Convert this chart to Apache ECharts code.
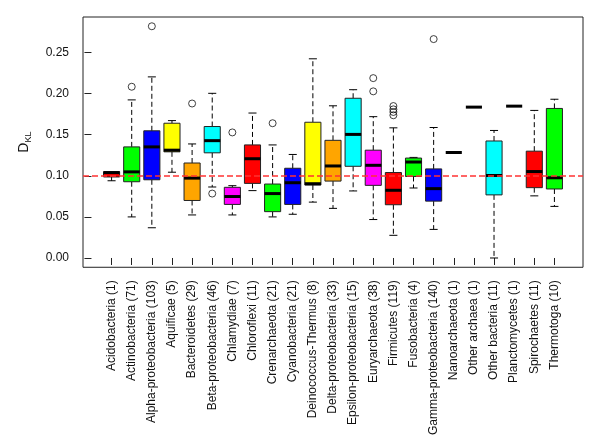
<!DOCTYPE html>
<html>
<head>
<meta charset="utf-8">
<script src="https://cdn.jsdelivr.net/npm/echarts@6/dist/echarts.min.js"></script>
<style>
html,body{margin:0;padding:0;background:#fff;}
#chart{width:600px;height:438px;}
</style>
</head>
<body>
<div id="chart"></div>
<script>
// ---- data ----
const categories = ["Acidobacteria (1)","Actinobacteria (71)","Alpha-proteobacteria (103)","Aquificae (5)","Bacteroidetes (29)","Beta-proteobacteria (46)","Chlamydiae (7)","Chloroflexi (11)","Crenarchaeota (21)","Cyanobacteria (21)","Deinococcus-Thermus (8)","Delta-proteobacteria (33)","Epsilon-proteobacteria (15)","Euryarchaeota (38)","Firmicutes (119)","Fusobacteria (4)","Gamma-proteobacteria (140)","Nanoarchaeota (1)","Other archaea (1)","Other bacteria (11)","Planctomycetes (1)","Spirochaetes (11)","Thermotoga (10)"];
const lowerWhisker = [0.094,0.050,0.0368,0.1044,0.0524,0.0864,0.0524,0.082,0.050,0.0532,0.068,0.0604,0.0816,0.0468,0.0276,0.0852,0.0348,0.1284,0.1836,0.000,0.1848,0.0756,0.0628];
const q1 =           [0.0986,0.0928,0.0952,0.1292,0.070,0.128,0.0652,0.0908,0.0564,0.0652,0.0888,0.0936,0.1116,0.0884,0.0648,0.0992,0.0692,0.1284,0.1836,0.0768,0.1848,0.0856,0.084];
const medians =      [0.1039,0.1048,0.1352,0.1312,0.0972,0.1428,0.0748,0.1208,0.0784,0.0916,0.0904,0.112,0.1504,0.1128,0.0824,0.1168,0.0844,0.1284,0.1836,0.1004,0.1848,0.1052,0.0976];
const q3 =           [0.105,0.1352,0.1548,0.164,0.1156,0.160,0.086,0.1376,0.090,0.1092,0.1652,0.1432,0.1944,0.1312,0.104,0.1216,0.1084,0.1284,0.1836,0.1424,0.1848,0.130,0.182];
const upperWhisker = [0.105,0.1924,0.2204,0.1672,0.1388,0.2004,0.088,0.1764,0.1376,0.126,0.2424,0.1852,0.2048,0.172,0.1584,0.1224,0.1588,0.1284,0.1836,0.1552,0.1848,0.1796,0.1932];
// outliers: [category number (1-based), value]
const outliers = [[2,0.2084],[3,0.282],[5,0.188],[6,0.0784],[7,0.1528],[9,0.164],[14,0.2189],[14,0.2028],[15,0.1849],[15,0.1809],[15,0.1777],[15,0.1737],[17,0.2664]];
const referenceValue = 0.1018;
const yTicks = [0.00,0.05,0.10,0.15,0.20,0.25];
const boxColors = ['#ff0000','#00ff00','#0000ff','#ffff00','#ffa500','#00ffff','#ff00ff'];

// ---- build ----
const n = categories.length;
const xMin = 0.5 - 0.04 * n, xMax = n + 0.5 + 0.04 * n;
const allVals = lowerWhisker.concat(upperWhisker, outliers.map(o => o[1]));
const dMin = Math.min.apply(null, allVals), dMax = Math.max.apply(null, allVals);
const yMin = dMin - 0.04 * (dMax - dMin), yMax = dMax + 0.04 * (dMax - dMin);
const xPositions = categories.map((c, i) => i + 1);

const boxData = categories.map((c, i) => [i + 1, lowerWhisker[i], q1[i], medians[i], q3[i], upperWhisker[i], i]);
const BOXWEX = 0.8;
const FONT = "'Liberation Sans', Arial, Helvetica, sans-serif";

function renderBox(params, api) {
  const x = api.value(0);
  const lo = api.value(1), a = api.value(2), m = api.value(3), b = api.value(4), hi = api.value(5);
  const idx = api.value(6);
  const halfW = api.size([BOXWEX, 0])[0] / 2;
  const capW = halfW / 2;
  const pLo = api.coord([x, lo]), pA = api.coord([x, a]), pM = api.coord([x, m]), pB = api.coord([x, b]), pHi = api.coord([x, hi]);
  const cx = pM[0];
  const children = [];
  const single = (lo === hi);
  if (!single) {
    const dash = { stroke: '#000', lineWidth: 1, lineDash: [5, 3] };
    if (hi > b) {
      children.push({ type: 'line', shape: { x1: cx, y1: pB[1], x2: cx, y2: pHi[1] }, style: dash });
      children.push({ type: 'line', shape: { x1: cx - capW, y1: pHi[1], x2: cx + capW, y2: pHi[1] }, style: { stroke: '#000', lineWidth: 1 } });
    }
    if (lo < a) {
      children.push({ type: 'line', shape: { x1: cx, y1: pA[1], x2: cx, y2: pLo[1] }, style: dash });
      children.push({ type: 'line', shape: { x1: cx - capW, y1: pLo[1], x2: cx + capW, y2: pLo[1] }, style: { stroke: '#000', lineWidth: 1 } });
    }
    children.push({ type: 'rect', shape: { x: cx - halfW, y: pB[1], width: 2 * halfW, height: pA[1] - pB[1] },
      style: { fill: boxColors[idx % boxColors.length], stroke: '#222', lineWidth: 1 } });
  }
  children.push({ type: 'line', shape: { x1: cx - halfW, y1: pM[1], x2: cx + halfW, y2: pM[1] }, style: { stroke: '#000', lineWidth: 3 } });
  return { type: 'group', children: children };
}

const chart = echarts.init(document.getElementById('chart'), null, { renderer: 'canvas' });
chart.setOption({
  animation: false,
  backgroundColor: '#fff',
  textStyle: { fontFamily: FONT },
  grid: { left: 83, right: 17, top: 17, bottom: 168, show: true, borderColor: '#222', borderWidth: 1, backgroundColor: 'transparent' },
  xAxis: {
    type: 'value', min: xMin, max: xMax,
    splitLine: { show: false },
    axisLine: { show: false },
    axisTick: { show: true, length: 7, lineStyle: { color: '#222' }, customValues: xPositions },
    axisLabel: { show: true, rotate: 90, margin: 13, fontSize: 12, color: '#111', fontFamily: FONT,
      customValues: xPositions, formatter: v => categories[Math.round(v) - 1] || '' }
  },
  yAxis: {
    type: 'value', min: yMin, max: yMax,
    splitLine: { show: false },
    axisLine: { show: false },
    axisTick: { show: true, length: 7, lineStyle: { color: '#222' }, customValues: yTicks },
    axisLabel: { show: true, margin: 14, fontSize: 12, color: '#111', fontFamily: FONT,
      customValues: yTicks, formatter: v => v.toFixed(2) },
    name: '{d|D}{s|KL}', nameLocation: 'middle', nameRotate: 90, nameGap: 50,
    nameTextStyle: { color: '#111', fontFamily: FONT, rich: {
      d: { fontSize: 14, fontFamily: FONT, color: '#111', verticalAlign: 'top', lineHeight: 16 },
      s: { fontSize: 9, fontFamily: FONT, color: '#111', verticalAlign: 'bottom', lineHeight: 10, padding: [10, 0, 0, 0] }
    } }
  },
  series: [
    { type: 'custom', renderItem: renderBox, data: boxData, encode: { x: 0, y: [1, 5] }, z: 2 },
    { type: 'scatter', data: outliers, symbol: 'circle', symbolSize: 7,
      itemStyle: { color: 'rgba(0,0,0,0)', borderColor: '#111', borderWidth: 1 }, z: 3 },
    { type: 'line', data: [], z: 5,
      markLine: { silent: true, symbol: 'none', label: { show: false },
        lineStyle: { color: 'rgba(255,50,50,0.75)', type: [6, 3], width: 1.8 },
        data: [{ yAxis: referenceValue }] } }
  ]
});
</script>
</body>
</html>
